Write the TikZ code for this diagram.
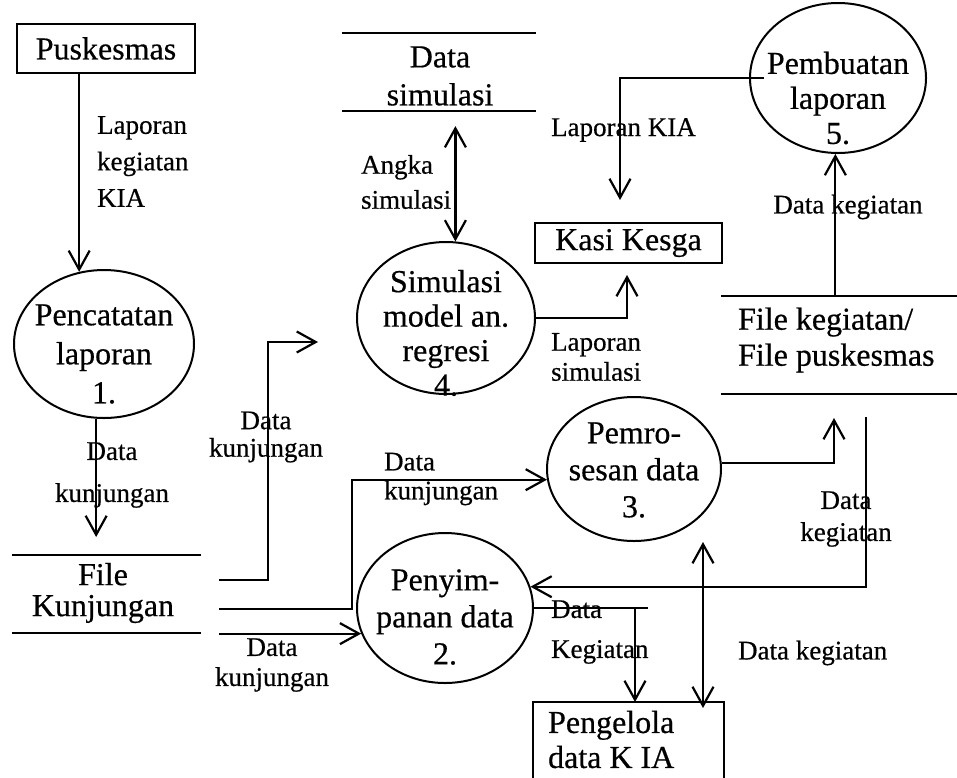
\documentclass[tikz,border=0pt]{standalone}
\usepackage{fontspec}
\setmainfont{Liberation Serif}[FakeBold=0.5]
\usetikzlibrary{arrows.meta,shapes.geometric}
\begin{document}
\begin{tikzpicture}[x=1pt,y=-1pt,
  line width=2.2pt,
  >={Straight Barb[length=19pt,width=21pt]},
  flow/.style={->},
  flowboth/.style={<->},
  proc/.style={draw, ellipse, inner sep=0pt, line width=2pt},
  ent/.style={draw, rectangle, inner sep=0pt, line width=2pt},
  store/.style={inner sep=0pt},
  big/.style={font=\fontsize{32}{#1}\selectfont, align=center, inner sep=0pt},
  big/.default=37,
  lbl/.style={font=\fontsize{27}{#1}\selectfont, align=center, inner sep=0pt},
  lbl/.default=30,
]
\useasboundingbox (0,0) rectangle (957,777);

% external entities
\node[ent, big, minimum width=178pt, minimum height=49pt] (pusk) at (106,48.5) {Puskesmas};
\node[ent, big, minimum width=187pt, minimum height=40pt] (kasi) at (628.5,243) {Kasi Kesga};
\node[store, minimum width=189pt, minimum height=75pt, anchor=north west] (peng) at (533,702) {};
\draw[line width=2pt] (peng.south west) -- (peng.north west) -- (peng.north east) -- (peng.south east);
\node[big={35}, align=left, anchor=west] (pengtxt) at (547,739.5) {Pengelola\\data K IA};

% processes
\node[proc, minimum width=180pt, minimum height=148pt] (p1) at (104,344) {};
\node[big={39}] (t1) at (104,354) {Pencatatan\\laporan\\1.};
\node[proc, minimum width=176pt, minimum height=150pt] (p2) at (445,608) {};
\node[big] (t2) at (445,617) {Penyim-\\panan data\\2.};
\node[proc, minimum width=174pt, minimum height=144pt] (p3) at (634,469) {};
\node[big] (t3) at (634,470) {Pemro-\\sesan data\\3.};
\node[proc, minimum width=178pt, minimum height=152pt] (p4) at (446,318) {};
\node[big={34.5}] (t4) at (446,333) {Simulasi\\model an.\\regresi\\4.};
\node[proc, minimum width=176pt, minimum height=150pt] (p5) at (838,78) {};
\node[big={35}] (t5) at (838,98) {Pembuatan\\laporan\\5.};

% data stores
\node[store, minimum width=192pt, minimum height=76pt] (ds) at (439,72) {};
\draw (ds.north west) -- (ds.north east);
\draw (ds.south west) -- (ds.south east);
\node[big={38}] (dstxt) at (440,76) {Data\\simulasi};

\node[store, minimum width=187pt, minimum height=76pt] (fk) at (106.5,594) {};
\draw (fk.north west) -- (fk.north east);
\draw (fk.south west) -- (fk.south east);
\node[big={31}] (fktxt) at (103,593) {File\\Kunjungan};

\node[store, minimum width=235pt, minimum height=96pt] (fkg) at (839.5,345) {};
\draw (fkg.north west) -- (fkg.north east);
\draw (fkg.south west) -- (fkg.south east);
\node[big={36}, align=left, anchor=west] (fkgtxt) at (737,340) {File kegiatan/\\File puskesmas};

% free ends of flows
\coordinate (fkr) at ([xshift=18pt]fk.east);
\coordinate (fkin) at (96,537);
\coordinate (simin) at (318,342);
\coordinate (dsin) at ([yshift=-15pt]ds.south);
\coordinate (kasiin) at (627,275);
\coordinate (kasitop) at (620,200);
\coordinate (fkgin) at (834,418);
\coordinate (fkgout) at (866,417);
\coordinate (p3low) at (703,542);

% flows
\draw[flow] (pusk.south -| p1.109) -- (p1.109);
\draw[flow] (p1.264) -- (p1.264 |- fkin);
\draw[flow] (fkr |- 0,580) -| ([xshift=-50pt]simin) -- (simin);
\draw[flow] (fkr |- 0,609) -- (352,609) |- (p3.187);
\draw[flow] (fkr |- p2.197) -- (p2.197);
\draw[flowboth] (p4.83 |- dsin) -- (p4.83);
\draw[flow] (p4.east) -| (kasiin);
\draw[flow] ([xshift=15pt]p5.west) -| (kasitop);
\draw[flow] (p5.268 |- fkg.north) -- (p5.268);
\draw[flow] (p3.4) -| (fkgin);
\draw[flow] (fkgout) |- (p2.14);
\draw (p2.east) -- ++(114,0);
\draw[flow] (p2.east) -| (peng.north -| 635,0);
\draw[flowboth] (p3low) -- (p3low |- 0,708);

% flow labels
\node[lbl={36.5}, align=left, anchor=west] (l1) at (96,161.5) {Laporan\\kegiatan\\KIA};
\node[lbl={42}] (l2) at (112,475) {Data\\kunjungan};
\node[lbl={27.5}] (l3) at (266,437) {Data\\kunjungan};
\node[lbl={29}, align=left, anchor=west] (l4) at (383,479) {Data\\kunjungan};
\node[lbl] (l5) at (272,665) {Data\\kunjungan};
\node[lbl={35}, align=left, anchor=west] (l6) at (360,182) {Angka\\simulasi};
\node[lbl, anchor=west] (l7) at (550,130) {Laporan KIA};
\node[lbl, align=left, anchor=west] (l8) at (550,357) {Laporan\\simulasi};
\node[lbl] (l9) at (848,207) {Data kegiatan};
\node[lbl={32}] (l10) at (846,519) {Data\\kegiatan};
\node[lbl={40}, align=left, anchor=west] (l11) at (550,632) {Data\\Kegiatan};
\node[lbl, anchor=west] (l12) at (737,653) {Data kegiatan};
\end{tikzpicture}
\end{document}
